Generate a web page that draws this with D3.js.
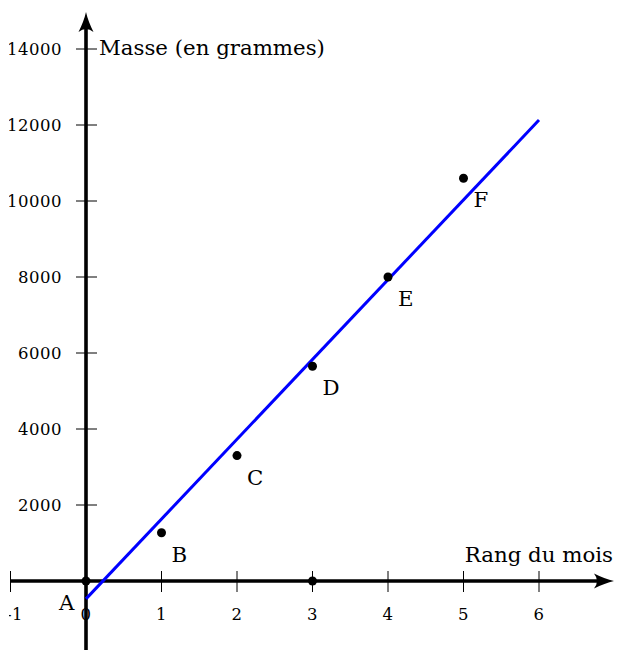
<!DOCTYPE html>
<html>
<head>
<meta charset="utf-8">
<script src="https://cdn.jsdelivr.net/npm/d3@7"></script>
<style>
  html, body { margin: 0; padding: 0; background: #fff; }
  svg { display: block; }
  text { font-family: "DejaVu Serif", "Liberation Serif", serif; fill: #000; }
</style>
</head>
<body>
<div id="chart"></div>
<script>
// ---- Data ----
const pointNames = ["A", "B", "C", "D", "E", "F"];
const months = [0, 1, 2, 3, 4, 5];
const masses = [0, 1270, 3300, 5650, 8000, 10600];
const extraPointX = [3];
const extraPointY = [0];
const fitX = [0, 6];
const fitY = [-470, 12130];
const xTicks = [-1, 0, 1, 2, 3, 4, 5, 6];
const yTicks = [2000, 4000, 6000, 8000, 10000, 12000, 14000];
const xAxisLabel = "Rang du mois";
const yAxisLabel = "Masse (en grammes)";

// ---- Layout ----
const W = 617, H = 650;
const svg = d3.select("#chart").append("svg").attr("width", W).attr("height", H);

const x = d3.scaleLinear().domain([0, 6]).range([86, 539]);
const y = d3.scaleLinear().domain([0, 14000]).range([581, 49]);

svg.append("defs").append("clipPath").attr("id", "clip")
  .append("rect").attr("x", 9).attr("y", 0).attr("width", W - 9).attr("height", H);

const g = svg.append("g").attr("clip-path", "url(#clip)");
const x0 = x(0), y0 = y(0);

// x tick labels (under the axes)
g.selectAll(".xlab").data(xTicks).enter().append("text")
  .attr("x", d => x(d) + (d < 0 ? 4 : 0)).attr("y", 620)
  .attr("text-anchor", "middle").attr("font-size", 16.5)
  .style("letter-spacing", "0.4px")
  .text(d => d < 0 ? "-" + Math.abs(d) : d);

// x axis line
g.append("line").attr("x1", 10).attr("x2", 606).attr("y1", y0).attr("y2", y0)
  .attr("stroke", "#000").attr("stroke-width", 3.6);
const xt = 614;
g.append("path")
  .attr("d", `M${xt},${y0} Q${xt-9},${y0-2} ${xt-20},${y0-7.5} Q${xt-14},${y0} ${xt-20},${y0+7.5} Q${xt-9},${y0+2} ${xt},${y0} Z`)
  .attr("fill", "#000");

// y axis line
g.append("line").attr("x1", x0).attr("x2", x0).attr("y1", H).attr("y2", 20)
  .attr("stroke", "#000").attr("stroke-width", 3.6);
const yt = 12;
g.append("path")
  .attr("d", `M${x0},${yt} Q${x0-2},${yt+9} ${x0-7.5},${yt+20} Q${x0},${yt+14} ${x0+7.5},${yt+20} Q${x0+2},${yt+9} ${x0},${yt} Z`)
  .attr("fill", "#000");

// x ticks
g.selectAll(".xtick").data(xTicks.filter(d => d !== 0)).enter().append("line")
  .attr("x1", d => x(d)).attr("x2", d => x(d))
  .attr("y1", y0 - 10).attr("y2", y0 + 11)
  .attr("stroke", "#000").attr("stroke-width", 1);

// y ticks
g.selectAll(".ytick").data(yTicks).enter().append("line")
  .attr("x1", x0 - 10).attr("x2", x0 + 11)
  .attr("y1", d => y(d)).attr("y2", d => y(d))
  .attr("stroke", "#000").attr("stroke-width", 1);
g.selectAll(".ylab").data(yTicks).enter().append("text")
  .attr("x", 62).attr("y", d => y(d)).attr("dy", "0.36em")
  .attr("text-anchor", "end").attr("font-size", 16.5)
  .style("letter-spacing", "0.5px")
  .text(d => d);

// axis labels
g.append("text").attr("x", 99).attr("y", 54.5).attr("font-size", 21.3).text(yAxisLabel);
g.append("text").attr("x", 613).attr("y", 562).attr("text-anchor", "end").attr("font-size", 21.3).text(xAxisLabel);

// regression line
const fit = fitX.map((d, i) => [d, fitY[i]]);
g.append("path").datum(fit)
  .attr("d", d3.line().x(d => x(d[0])).y(d => y(d[1])))
  .attr("stroke", "#0000ff").attr("stroke-width", 3).attr("fill", "none");

// points
const pts = months.map((m, i) => ({ m, v: masses[i], name: pointNames[i] }));
g.selectAll(".pt").data(pts).enter().append("circle")
  .attr("cx", d => x(d.m)).attr("cy", d => y(d.v)).attr("r", 4.5).attr("fill", "#000");
g.selectAll(".ept").data(extraPointX).enter().append("circle")
  .attr("cx", (d) => x(d)).attr("cy", (d, i) => y(extraPointY[i])).attr("r", 4.5).attr("fill", "#000");

// point labels
g.selectAll(".plab").data(pts).enter().append("text")
  .attr("x", d => d.name === "A" ? x(d.m) - 27 : x(d.m) + 10)
  .attr("y", d => y(d.v) + 29)
  .attr("font-size", 21.3)
  .text(d => d.name);
</script>
</body>
</html>
